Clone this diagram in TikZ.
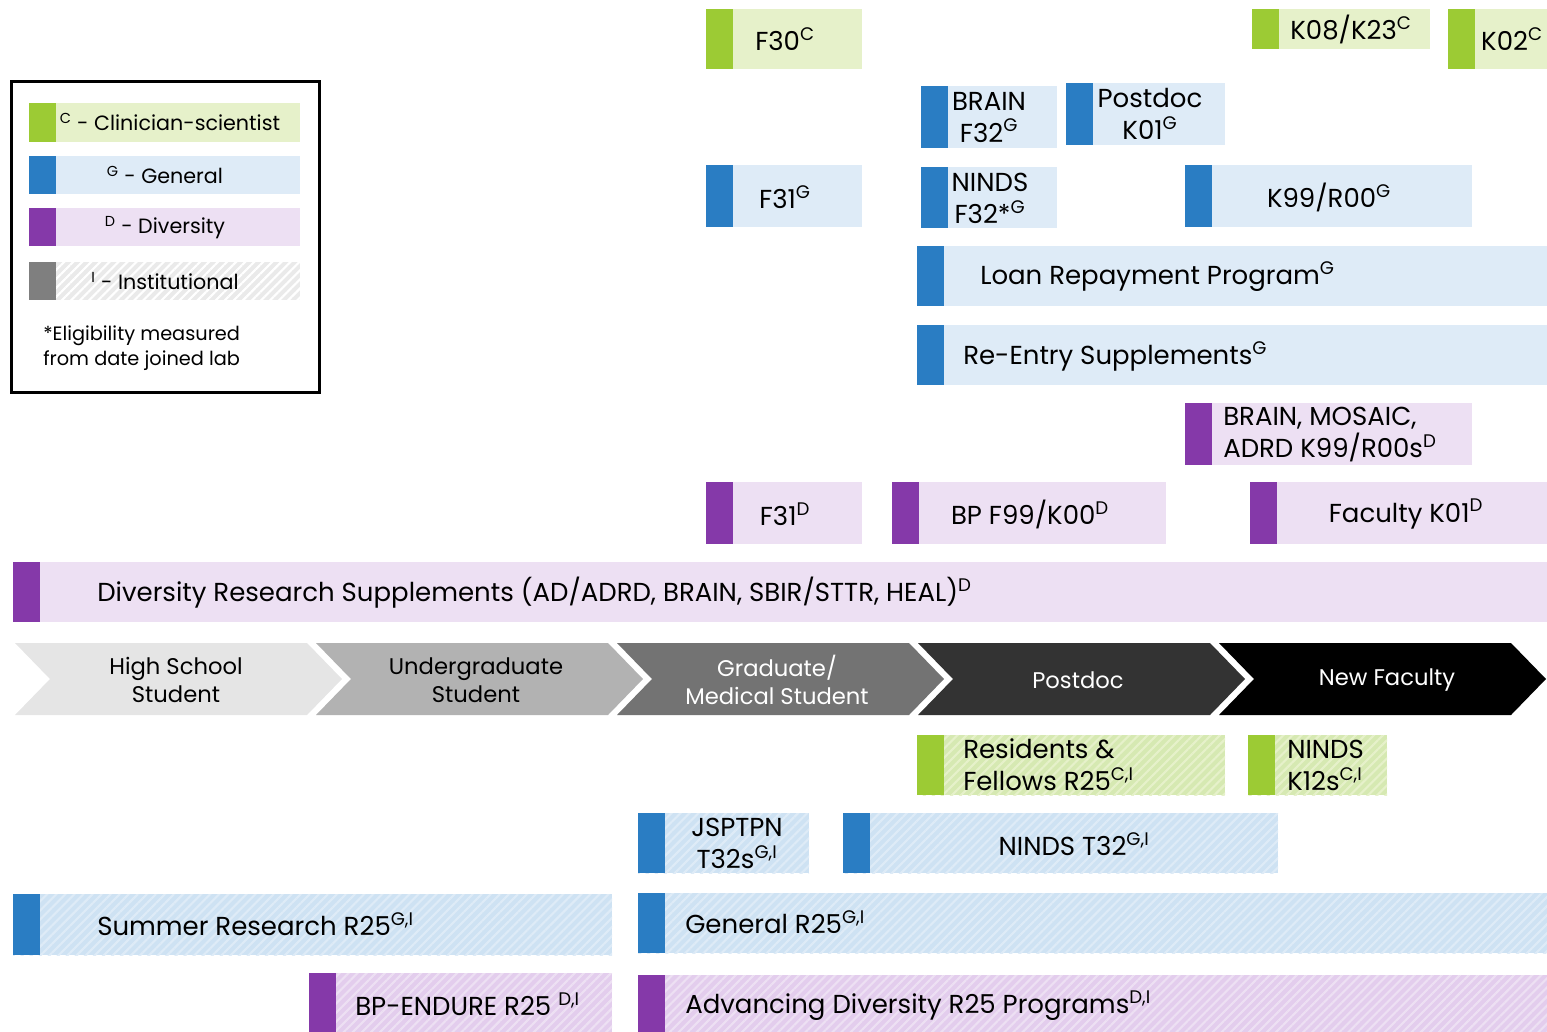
\documentclass[tikz,border=0pt]{standalone}
\usepackage{fontspec}
\setmainfont{Poppins}
\usetikzlibrary{fit, patterns.meta}
\definecolor{grnD}{HTML}{9CCB34}
\definecolor{grnL}{HTML}{E6F1CA}
\definecolor{grnH}{HTML}{D6E9B2}
\definecolor{bluD}{HTML}{2A7DC3}
\definecolor{bluL}{HTML}{DEEBF7}
\definecolor{bluH}{HTML}{CEE2F3}
\definecolor{purD}{HTML}{8539A9}
\definecolor{purL}{HTML}{EDE0F3}
\definecolor{purH}{HTML}{E3CDED}
\definecolor{gryD}{HTML}{7F7F7F}
\definecolor{gryH}{HTML}{EAEAEA}
\newcommand{\ts}[1]{\textsuperscript{#1}}
\tikzset{
barbase/.style={inner sep=0pt, outer sep=0pt}, % every programme bar
strip/.style={path picture={\fill[#1] (path picture bounding box.north west) rectangle ([xshift=20pt]path picture bounding box.south west);}}, % dark band on the left
hatch/.style={preaction={fill=#1}, pattern={Lines[angle=45,distance=4.8pt,line width=1.6pt]}}, % institutional bars
cbar/.style={barbase, fill=grnL, strip=grnD},
gbar/.style={barbase, fill=bluL, strip=bluD},
dbar/.style={barbase, fill=purL, strip=purD},
cibar/.style={barbase, hatch=grnH, pattern color=grnL, strip=grnD},
gibar/.style={barbase, hatch=bluH, pattern color=bluL, strip=bluD},
dibar/.style={barbase, hatch=purH, pattern color=purL, strip=purD},
ibar/.style={barbase, hatch=gryH, pattern color=white, strip=gryD},
lbl/.style={inner sep=0pt, font=\fontsize{19.5}{24}\selectfont, align=center}, % text on the bars
keytext/.style={inner sep=0pt, font=\fontsize{15.5}{19}\selectfont},
stagetext/.style={inner sep=0pt, font=\fontsize{17}{21}\selectfont, align=center},
}
\begin{document}
\begin{tikzpicture}[x=0.75pt, y=-0.75pt]
\useasboundingbox (0,0) rectangle (1547,1032);

% legend
\node[barbase, draw, line width=2.25pt, fit={(11.5,81.5) (319.5,392.5)}] (legend) {};
\node[cbar, fit={(29,103) (300,142)}] (keyC) {};
\node[gbar, fit={(29,156) (300,194)}] (keyG) {};
\node[dbar, fit={(29,208) (300,246)}] (keyD) {};
\node[ibar, fit={(29,262) (300,300)}] (keyI) {};
\node[keytext] (keyCt) at (170,122) {\ts{C} - Clinician-scientist};
\node[keytext] (keyGt) at (165,175) {\ts{G} - General};
\node[keytext] (keyDt) at (165,228) {\ts{D} - Diversity};
\node[keytext] (keyIt) at (165,281) {\ts{I} - Institutional};
\node[keytext, anchor=west, align=left, font=\fontsize{14.5}{19}\selectfont] (note) at (43,348) {*Eligibility measured\\from date joined lab};

% fellowships and career awards
\node[cbar, fit={(706,9) (862,69)}] (f30) {};
\node[lbl] (f30t) at (785,39) {F30\ts{C}};
\node[cbar, fit={(1252,9) (1430,49)}] (k08) {};
\node[lbl] (k08t) at (1351,29) {K08/K23\ts{C}};
\node[cbar, fit={(1448,9) (1547,69)}] (k02) {};
\node[lbl] (k02t) at (1512,39) {K02\ts{C}};
\node[gbar, fit={(921,86) (1057,148)}] (bf32) {};
\node[lbl] (bf32t) at (989,117) {BRAIN\\F32\ts{G}};
\node[gbar, fit={(1066,83) (1225,145)}] (pk01) {};
\node[lbl] (pk01t) at (1150,114) {Postdoc\\K01\ts{G}};
\node[gbar, fit={(706,165) (862,227)}] (f31g) {};
\node[lbl] (f31gt) at (785,197) {F31\ts{G}};
\node[gbar, fit={(921,167) (1057,228)}] (nf32) {};
\node[lbl] (nf32t) at (990,198) {NINDS\\F32*\ts{G}};
\node[gbar, fit={(1185,165) (1472,227)}] (k99) {};
\node[lbl] (k99t) at (1329,197) {K99/R00\ts{G}};
\node[gbar, fit={(917,246) (1547,306)}] (lrp) {};
\node[lbl, anchor=west] (lrpt) at (980,277) {Loan Repayment Program\ts{G}};
\node[gbar, fit={(917,325) (1547,385)}] (reentry) {};
\node[lbl, anchor=west] (reentryt) at (963,356) {Re-Entry Supplements\ts{G}};
\node[dbar, fit={(1185,403) (1472,465)}] (dk99) {};
\node[lbl, anchor=west, align=left] (dk99t) at (1223,435) {BRAIN, MOSAIC,\\ADRD K99/R00s\ts{D}};
\node[dbar, fit={(706,482) (862,544)}] (f31d) {};
\node[lbl] (f31dt) at (785,514) {F31\ts{D}};
\node[dbar, fit={(892,482) (1166,544)}] (bpf99) {};
\node[lbl] (bpf99t) at (1030,514) {BP F99/K00\ts{D}};
\node[dbar, fit={(1250,482) (1547,544)}] (fk01) {};
\node[lbl] (fk01t) at (1406,514) {Faculty K01\ts{D}};
\node[dbar, fit={(13,562) (1547,622)}] (drs) {};
\node[lbl, anchor=west] (drst) at (97,593) {Diversity Research Supplements (AD/ADRD, BRAIN, SBIR/STTR, HEAL)\ts{D}};

% career stages
\foreach \x/\c in {15/black!10, 316/black!30, 617/black!55, 918/black!80, 1219/black}
  \fill[\c] (\x,643) -- ++(292,0) -- ++(35,36) -- ++(-35,36) -- ++(-292,0) -- ++(35,-36) -- cycle;
\node[stagetext] (hs) at (176,680) {High School\\Student};
\node[stagetext] (ug) at (476,680) {Undergraduate\\Student};
\node[stagetext, text=white] (grad) at (777,680) {Graduate/\\Medical Student};
\node[stagetext, text=white] (pd) at (1078,680) {Postdoc};
\node[stagetext, text=white] (nf) at (1387,680) {New Faculty};

% institutional programmes
\node[cibar, fit={(917,735) (1225,795)}] (rfr25) {};
\node[lbl, anchor=west, align=left] (rfr25t) at (963,765) {Residents \&\\Fellows R25\ts{C,I}};
\node[cibar, fit={(1248,735) (1387,795)}] (k12) {};
\node[lbl, anchor=west, align=left] (k12t) at (1287,765) {NINDS\\K12s\ts{C,I}};
\node[gibar, fit={(638,813) (809,873)}] (jsp) {};
\node[lbl] (jspt) at (737,843) {JSPTPN\\T32s\ts{G,I}};
\node[gibar, fit={(843,813) (1278,873)}] (nt32) {};
\node[lbl] (nt32t) at (1074,844) {NINDS T32\ts{G,I}};
\node[gibar, fit={(13,894) (612,955)}] (sr25) {};
\node[lbl, anchor=west] (sr25t) at (97,924) {Summer Research R25\ts{G,I}};
\node[gibar, fit={(638,893) (1547,953)}] (gr25) {};
\node[lbl, anchor=west] (gr25t) at (685,922) {General R25\ts{G,I}};
\node[dibar, fit={(309,973) (612,1032)}] (endure) {};
\node[lbl, anchor=west] (enduret) at (355,1004) {BP-ENDURE R25 \ts{D,I}};
\node[dibar, fit={(638,975) (1547,1032)}] (adr25) {};
\node[lbl, anchor=west] (adr25t) at (685,1006) {Advancing Diversity R25 Programs\ts{D,I}};
\end{tikzpicture}
\end{document}
